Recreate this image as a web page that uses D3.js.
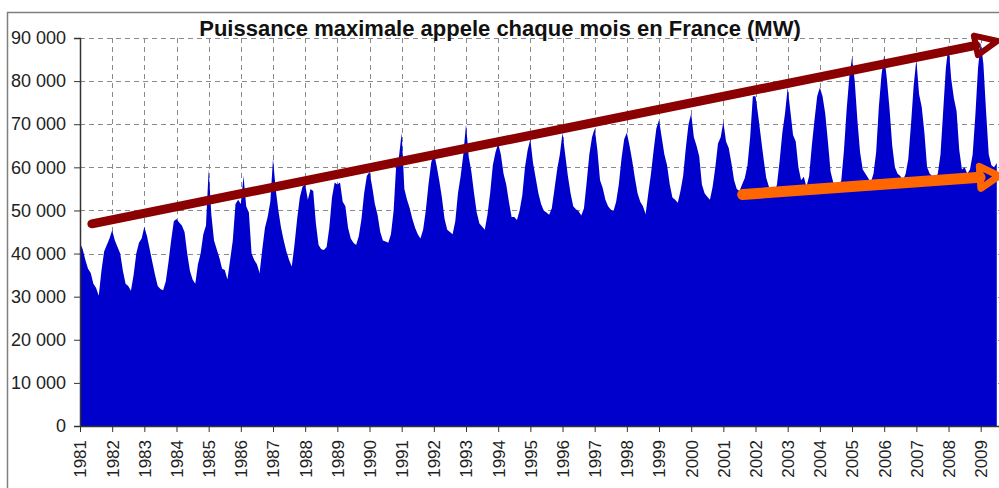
<!DOCTYPE html>
<html>
<head>
<meta charset="utf-8">
<script src="https://cdn.jsdelivr.net/npm/d3@7"></script>
<style>
  body { margin: 0; background: #fff; }
  svg { display: block; font-family: Arial, "Liberation Sans", sans-serif; }
</style>
</head>
<body>
<svg width="999" height="488"></svg>
<script>
// monthly max power (MW), Jan 1981 -> Jul 2009, one row per year
var startYear = 1981;
var monthlyMW = [
  42500, 41000, 38500, 36500, 35500, 33000, 32000, 30200, 36000, 40500, 42000, 43500, // 1981
  45400, 43000, 41500, 40000, 36000, 33000, 32500, 31400, 35000, 40000, 42500, 43500, // 1982
  46200, 44000, 41000, 38000, 35000, 32500, 31800, 31500, 33500, 38000, 43000, 47500, // 1983
  48000, 47200, 46500, 45000, 40000, 36000, 34000, 33000, 37500, 40000, 44500, 46500, // 1984
  59500, 49000, 43000, 41000, 39000, 36500, 36200, 34000, 38500, 43000, 51500, 52500, // 1985
  51500, 58000, 51000, 49500, 40000, 38500, 37500, 35500, 41000, 46000, 48500, 52000, // 1986
  62000, 55000, 50000, 46000, 43000, 40500, 38500, 37000, 42000, 48000, 53000, 55500, // 1987
  56000, 52500, 55000, 54500, 47000, 42000, 41000, 40800, 41500, 46000, 53000, 56500, // 1988
  56000, 56500, 52000, 51000, 46000, 43500, 42500, 42000, 44000, 48000, 54000, 58000, // 1989
  59000, 55500, 51500, 49000, 45000, 43000, 42800, 42500, 44500, 50000, 61000, 62500, // 1990
  68000, 55000, 52500, 50500, 48000, 46000, 44500, 43500, 45500, 50000, 56000, 61000, // 1991
  63500, 60500, 57000, 53000, 48000, 45500, 45000, 44500, 47500, 54000, 58000, 63000, // 1992
  70000, 62500, 59000, 54000, 49500, 47000, 46300, 45500, 49000, 54000, 60500, 63500, // 1993
  65500, 63000, 58500, 56000, 52000, 48500, 48500, 47800, 50000, 53500, 60000, 64000, // 1994
  66500, 61000, 57500, 54000, 51500, 50000, 49500, 49000, 50500, 55000, 59500, 63000, // 1995
  68000, 63000, 58000, 54000, 51000, 50300, 49800, 48800, 50500, 56500, 63000, 67000, // 1996
  69000, 64000, 57000, 55200, 52500, 51000, 50200, 49800, 52000, 56000, 62000, 66500, // 1997
  68000, 65000, 61500, 57500, 54000, 52000, 51000, 49200, 54000, 58500, 64000, 69000, // 1998
  71000, 67000, 63000, 60500, 56000, 53000, 52500, 51800, 54500, 58000, 64500, 70000, // 1999
  72500, 67000, 65000, 62500, 56000, 54000, 53200, 52500, 55500, 60000, 65500, 67000, // 2000
  70500, 66000, 64500, 61000, 57000, 55000, 54500, 56000, 57500, 60500, 67000, 76500, // 2001
  76500, 72000, 67000, 62000, 57500, 55500, 54500, 54000, 56000, 61500, 68000, 72500, // 2002
  78500, 73000, 67500, 66000, 60000, 57000, 57800, 55500, 58000, 65000, 71000, 76500, // 2003
  78500, 76500, 72500, 66000, 59000, 56500, 56000, 55500, 57000, 64000, 73500, 81000, // 2004
  85500, 80000, 71000, 63500, 59500, 58500, 57500, 56500, 58500, 63500, 74000, 81500, // 2005
  86000, 80500, 73500, 65000, 60000, 58500, 58000, 57000, 58500, 62000, 70000, 79000, // 2006
  85000, 77000, 74000, 68000, 60000, 58500, 58000, 57500, 58500, 63000, 73000, 83000, // 2007
  88500, 80500, 76000, 73000, 64000, 59500, 60000, 58500, 59500, 63000, 72000, 83000, // 2008
  89000, 84000, 73000, 63000, 60500, 60000, 61000                                     // 2009
];
var yearLabels = d3.range(1981, 2010);
var yTicks = [0, 10000, 20000, 30000, 40000, 50000, 60000, 70000, 80000, 90000];

// hand drawn trend arrows: [year, MW] start and tip
var trendPeaks = [[1981.37, 46900], [2009.52, 89300]];
var trendTroughs = [[2001.6, 53700], [2009.57, 58000]];

var title = "Puissance maximale appele chaque mois en France (MW)";

var svg = d3.select("svg");

var x = d3.scaleLinear().domain([1981, 2009]).range([80, 980.7]);
var y = d3.scaleLinear().domain([0, 90000]).range([426, 38]);

var fmt = d3.formatLocale({decimal: ",", thousands: "\u00a0", grouping: [3]}).format(",d");

var points = monthlyMW.map(function(v, i) { return [startYear + i / 12, v]; });

// outer frame
svg.append("path")
    .attr("d", "M7.5,488 V12.5 H999")
    .attr("fill", "none")
    .attr("stroke", "#808080")
    .attr("stroke-width", 1.5);

// grid
var grid = svg.append("g").attr("stroke", "#8a8a8a").attr("stroke-dasharray", "5,4");
grid.selectAll(".hg")
  .data(yTicks.slice(1))
  .enter().append("line")
    .attr("x1", 80).attr("x2", 999)
    .attr("y1", function(d) { return Math.round(y(d)) + 0.5; })
    .attr("y2", function(d) { return Math.round(y(d)) + 0.5; });
grid.selectAll(".vg")
  .data(yearLabels.slice(1))
  .enter().append("line")
    .attr("y1", y(90000)).attr("y2", y(0))
    .attr("x1", function(d) { return Math.round(x(d)) + 0.5; })
    .attr("x2", function(d) { return Math.round(x(d)) + 0.5; });

// area
var area = d3.area()
    .x(function(d) { return x(d[0]); })
    .y0(y(0))
    .y1(function(d) { return y(d[1]); });

svg.append("path")
    .datum(points)
    .attr("d", area)
    .attr("fill", "#0000cc");

// axes
var yAxis = d3.axisLeft(y).tickValues(yTicks).tickSize(6).tickPadding(8).tickFormat(fmt);
var gy = svg.append("g").attr("transform", "translate(80,0)").call(yAxis);
gy.select(".domain").attr("stroke", "#333").attr("stroke-width", 1.5);
gy.selectAll(".tick line").attr("stroke", "#333");
gy.selectAll("text").attr("font-size", 18).attr("fill", "#222").style("font-family", "Arial, 'Liberation Sans', sans-serif");

var xAxis = d3.axisBottom(x).tickValues(yearLabels).tickSize(6).tickFormat(d3.format("d"));
var gx = svg.append("g").attr("transform", "translate(0,426)").call(xAxis);
gx.select(".domain").attr("d", "M80,0.5H999").attr("stroke", "#333").attr("stroke-width", 1.5);
gx.selectAll(".tick line").attr("stroke", "#333");
gx.selectAll("text")
    .attr("font-size", 17)
    .attr("fill", "#222")
    .style("font-family", "Arial, 'Liberation Sans', sans-serif")
    .attr("text-anchor", "end")
    .attr("transform", "rotate(-90)")
    .attr("x", -14)
    .attr("y", 0)
    .attr("dy", "0.35em");

// arrows
function arrow(pts, color, width, headLen, headHalf, headStroke) {
  var x0 = x(pts[0][0]), y0 = y(pts[0][1]);
  var x1 = x(pts[1][0]), y1 = y(pts[1][1]);
  var dx = x1 - x0, dy = y1 - y0, len = Math.sqrt(dx * dx + dy * dy);
  var ux = dx / len, uy = dy / len, nx = -uy, ny = ux;
  var bx = x1 - ux * headLen, by = y1 - uy * headLen;
  var g = svg.append("g");
  g.append("line")
      .attr("x1", x0).attr("y1", y0)
      .attr("x2", bx).attr("y2", by)
      .attr("stroke", color)
      .attr("stroke-width", width)
      .attr("stroke-linecap", "round");
  g.append("path")
      .attr("d", "M" + x1 + "," + y1 +
                 "L" + (bx + nx * headHalf) + "," + (by + ny * headHalf) +
                 "L" + (bx - nx * headHalf) + "," + (by - ny * headHalf) + "Z")
      .attr("fill", "none")
      .attr("stroke", color)
      .attr("stroke-width", headStroke)
      .attr("stroke-linejoin", "round");
}
arrow(trendPeaks, "#8b0000", 9, 22, 10, 6);
arrow(trendTroughs, "#ff6600", 11, 19, 11, 7);

// title
svg.append("text")
    .attr("x", 500)
    .attr("y", 36)
    .attr("text-anchor", "middle")
    .attr("font-size", 22)
    .attr("font-weight", "bold")
    .attr("fill", "#111")
    .text(title);
</script>
</body>
</html>
